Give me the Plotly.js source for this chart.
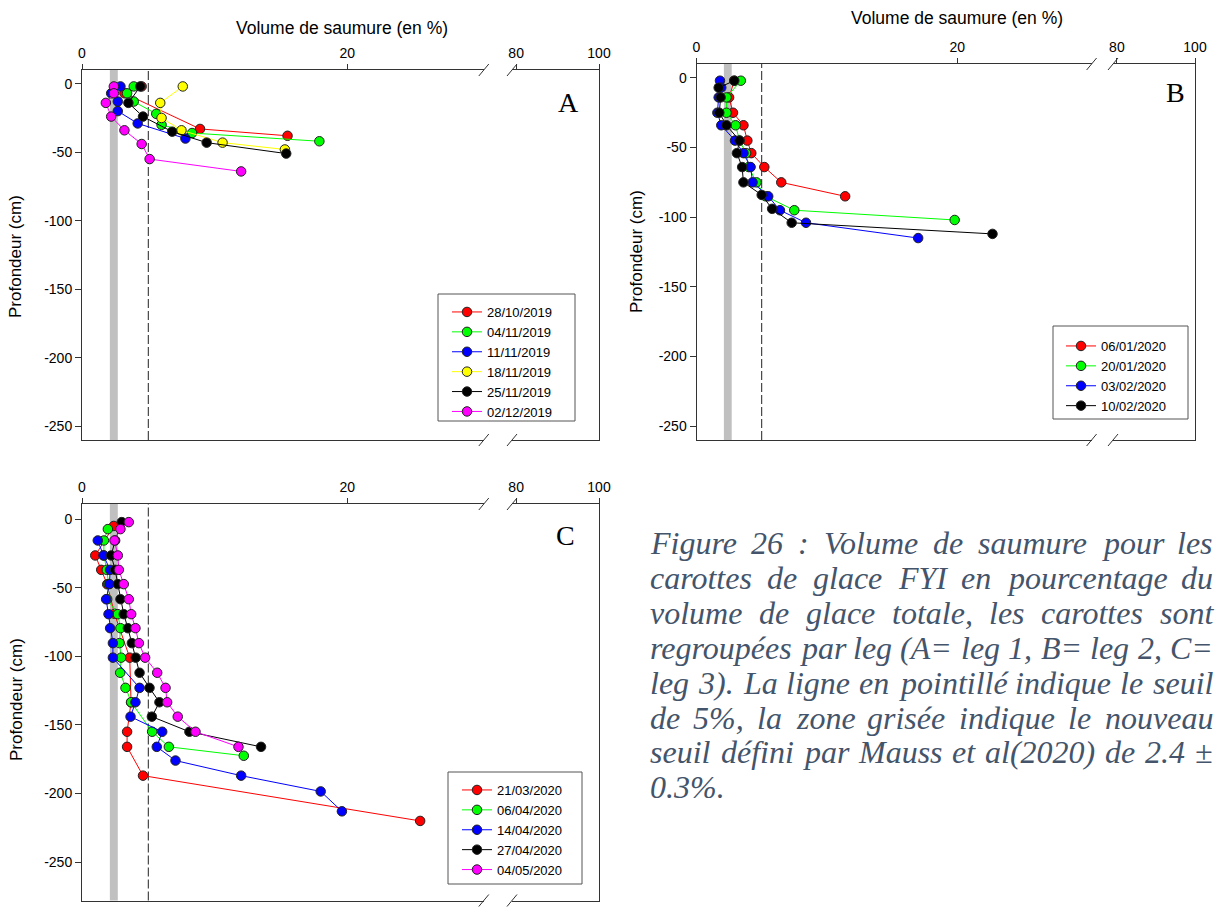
<!DOCTYPE html>
<html><head><meta charset="utf-8">
<script src="https://cdn.plot.ly/plotly-3.0.1.min.js"></script>
<style>html,body{margin:0;padding:0;background:#fff}#chart{width:1223px;height:907px}</style>
</head><body><div id="chart"></div>
<script>
// ================= DATA =================
// Panel A (leg 1)
const A_dates = ['28/10/2019','04/11/2019','11/11/2019','18/11/2019','25/11/2019','02/12/2019'];
const A_vol_281019 = [4.5, 3.2, 8.9, 15.5];
const A_dep_281019 = [-2, -7, -33, -38];
const A_vol_041119 = [3.9, 3.4, 3.9, 5.6, 6.0, 8.3, 17.9];
const A_dep_041119 = [-2, -7, -13, -22, -30, -36, -42];
const A_vol_111119 = [2.9, 2.2, 2.7, 2.7, 4.2, 7.8];
const A_dep_111119 = [-2, -7, -13, -20, -29, -40];
const A_vol_181119 = [7.6, 5.9, 6.0, 7.5, 10.6, 15.3];
const A_dep_181119 = [-2, -14, -25, -34, -43, -48];
const A_vol_251119 = [4.4, 3.5, 4.6, 6.8, 9.4, 15.4];
const A_dep_251119 = [-2, -14, -24, -35, -43, -51];
const A_vol_021219 = [2.4, 2.4, 1.8, 2.2, 3.2, 4.5, 5.1, 12.0];
const A_dep_021219 = [-2, -7, -14, -24, -34, -44, -55, -64];

// Panel B (leg 2)
const B_dates = ['06/01/2020','20/01/2020','03/02/2020','10/02/2020'];
const B_vol_060120 = [2.9, 2.5, 2.8, 3.6, 3.9, 4.2, 5.2, 6.5, 11.4];
const B_dep_060120 = [-2, -14, -25, -34, -45, -54, -64, -75, -85];
const B_vol_200120 = [3.4, 2.3, 2.3, 3.0, 3.3, 3.8, 4.0, 4.6, 5.3, 7.5, 19.8];
const B_dep_200120 = [-2, -14, -25, -34, -45, -54, -64, -75, -85, -95, -102];
const B_vol_030220 = [1.8, 1.9, 1.7, 1.6, 1.9, 2.95, 3.6, 4.15, 4.3, 5.5, 6.4, 8.4, 17.0];
const B_dep_030220 = [-2, -7, -14, -25, -34, -45, -54, -64, -75, -85, -95, -104, -115];
const B_vol_100220 = [2.9, 1.7, 1.85, 1.75, 2.3, 3.3, 3.1, 3.5, 3.6, 5.0, 5.8, 7.3, 22.7];
const B_dep_100220 = [-2, -7, -14, -25, -34, -45, -54, -64, -75, -84, -94, -104, -112];

// Panel C (leg 3)
const C_dates = ['21/03/2020','06/04/2020','14/04/2020','27/04/2020','04/05/2020'];
const C_vol_210320 = [2.4, 1.0, 1.45, 1.9, 2.45, 3.6, 3.7, 3.4, 3.4, 4.6, 25.5];
const C_dep_210320 = [-5, -26.5, -37, -47.5, -69, -101, -133.5, -155, -166, -187, -220];
const C_vol_060420 = [1.95, 1.65, 1.65, 1.87, 2.0, 1.9, 2.7, 2.9, 2.83, 2.95, 2.88, 3.28, 3.71, 5.29, 6.55, 12.2];
const C_dep_060420 = [-7.3, -15.6, -26.5, -37, -47.4, -58.4, -69.3, -79.5, -90.4, -101, -112, -123, -133.5, -155, -166, -172.5];
const C_vol_140420 = [1.19, 1.62, 2.12, 2.07, 1.82, 2.0, 2.12, 2.33, 2.33, 4.34, 4.03, 3.66, 6.05, 5.64, 7.05, 12.0, 18.0, 19.6];
const C_dep_140420 = [-15.6, -26.5, -37, -47.4, -58.4, -69.3, -79.5, -90.4, -101, -123, -133.5, -144, -155, -166, -176, -187, -198.5, -213];
const C_vol_270420 = [3.0, 2.5, 2.2, 2.5, 2.7, 2.9, 3.15, 3.46, 3.76, 4.05, 4.34, 5.09, 5.84, 5.27, 8.1, 13.5];
const C_dep_270420 = [-2.2, -15.6, -26.5, -37, -47.4, -58.4, -69.3, -79.5, -90.4, -101, -112, -123, -133.5, -144, -155, -166];
const C_vol_040520 = [3.53, 2.9, 2.45, 2.7, 2.78, 3.15, 3.53, 3.71, 4.03, 4.29, 4.76, 5.67, 6.3, 6.42, 7.22, 8.56, 11.8];
const C_dep_040520 = [-2.2, -7.3, -15.6, -26.5, -37, -47.4, -58.4, -69.3, -79.5, -90.4, -101, -112, -123, -133.5, -144, -155, -166];

// Thresholds
const SEUIL_CLASSIQUE = 5;      // %
const SEUIL_MAUSS = 2.4;        // %
const SEUIL_MAUSS_ERR = 0.3;    // %

// Tick labels
const X_TICKS_LOW = [0, 20];
const X_TICKS_HIGH = [80, 100];
const Y_TICKS = [0, -50, -100, -150, -200, -250];
const Y_TICK_TEXT = ['0', '-50', '-100', '-150', '-200', '-250'];

// Texts
const X_TITLE = 'Volume de saumure (en %)';
const Y_TITLE = 'Profondeur (cm)';
const CAPTION_LINES = [
  'Figure 26 : Volume de saumure pour les',
  'carottes de glace FYI en pourcentage du',
  'volume de glace totale, les carottes sont',
  'regroupées par leg (A= leg 1, B= leg 2, C=',
  'leg 3). La ligne en pointillé indique le seuil',
  'de 5%, la zone grisée indique le nouveau',
  'seuil défini par Mauss et al(2020) de 2.4 ±',
  '0.3%.'
];

// ================= STYLE / GEOMETRY =================
const W = 1223, H = 907;
const px = v => v / W;
const py = v => 1 - v / H;
const SANS = '"Liberation Sans", Arial, sans-serif';
const SERIF = '"Liberation Serif", "Times New Roman", serif';
const COL = {red:'#ff0000', green:'#00ff00', blue:'#0000ff', yellow:'#ffff00', black:'#000000', magenta:'#ff00ff'};

const PANELS = [
  {key:'A', xa:'x',  ya:'y',  xa2:'x2', ya2:'y2', legend:'legend',
   x0:82, xEnd:483.8, x2s:512, x2e:599, top:70, bot:440, yr:[-260,10],
   leg:{x0:438, y0:294, x1:575, y1:421, lx:447, ly:297}, letter:[568,102],
   xtitle:[341.5,28], ytitle:[16,257]},
  {key:'B', xa:'x3', ya:'y3', xa2:'x4', ya2:'y4', legend:'legend2',
   x0:696.5, xEnd:1091.6, x2s:1113, x2e:1195, top:64, bot:440, yr:[-260,10],
   leg:{x0:1053, y0:326, x1:1188, y1:419, lx:1061, ly:331}, letter:[1175,92],
   xtitle:[957,18], ytitle:[637,252]},
  {key:'C', xa:'x5', ya:'y5', xa2:'x6', ya2:'y6', legend:'legend3',
   x0:82, xEnd:483.8, x2s:512, x2e:599, top:504, bot:900.5, yr:[-278,11],
   leg:{x0:448, y0:772, x1:582, y1:884, lx:457, ly:775}, letter:[565,535],
   ytitle:[16,700]}
];

const SERIES = {
  A: [
    [A_vol_281019, A_dep_281019, A_dates[0], COL.red],
    [A_vol_041119, A_dep_041119, A_dates[1], COL.green],
    [A_vol_111119, A_dep_111119, A_dates[2], COL.blue],
    [A_vol_181119, A_dep_181119, A_dates[3], COL.yellow],
    [A_vol_251119, A_dep_251119, A_dates[4], COL.black],
    [A_vol_021219, A_dep_021219, A_dates[5], COL.magenta]
  ],
  B: [
    [B_vol_060120, B_dep_060120, B_dates[0], COL.red],
    [B_vol_200120, B_dep_200120, B_dates[1], COL.green],
    [B_vol_030220, B_dep_030220, B_dates[2], COL.blue],
    [B_vol_100220, B_dep_100220, B_dates[3], COL.black]
  ],
  C: [
    [C_vol_210320, C_dep_210320, C_dates[0], COL.red],
    [C_vol_060420, C_dep_060420, C_dates[1], COL.green],
    [C_vol_140420, C_dep_140420, C_dates[2], COL.blue],
    [C_vol_270420, C_dep_270420, C_dates[3], COL.black],
    [C_vol_040520, C_dep_040520, C_dates[4], COL.magenta]
  ]
};

const LINE_COL = '#333333';
const axisBase = {
  showline:true, linecolor:LINE_COL, linewidth:1, showgrid:false, zeroline:false,
  ticks:'outside', ticklen:5, tickwidth:1, tickcolor:LINE_COL,
  tickfont:{family:SANS, size:14, color:'#000'}, fixedrange:true
};

const traces = [];
const layout = {
  width:W, height:H, autosize:false,
  margin:{l:0, r:0, t:0, b:0, pad:0},
  paper_bgcolor:'#fff', plot_bgcolor:'rgba(0,0,0,0)',
  hovermode:false, shapes:[], annotations:[]
};

function axName(id){ return id.charAt(0) + 'axis' + (id.length > 1 ? id.slice(1) : ''); }

PANELS.forEach(P => {
  const yDom = [py(P.bot), py(P.top)];
  layout[axName(P.xa)] = Object.assign({}, axisBase, {
    domain:[px(P.x0), px(P.xEnd)], range:[0, 30.3], side:'top', anchor:P.ya,
    tickvals:X_TICKS_LOW, mirror:true
  });
  layout[axName(P.xa2)] = Object.assign({}, axisBase, {
    domain:[px(P.x2s), px(P.x2e)], range:[79, 100], side:'top', anchor:P.ya2,
    tickvals:X_TICKS_HIGH, mirror:true
  });
  layout[axName(P.ya)] = Object.assign({}, axisBase, {
    domain:yDom, range:P.yr, anchor:P.xa, side:'left',
    tickvals:Y_TICKS, ticktext:Y_TICK_TEXT, ticklen:6
  });
  layout[axName(P.ya2)] = {
    domain:yDom, range:P.yr, anchor:P.xa2, side:'right',
    showline:true, linecolor:LINE_COL, linewidth:1, showgrid:false, zeroline:false,
    showticklabels:false, ticks:'', fixedrange:true
  };

  // grey band (Mauss et al. 2020 threshold 2.4 ± 0.3 %)
  layout.shapes.push({type:'rect', xref:P.xa, yref:P.ya + ' domain',
    x0:SEUIL_MAUSS - SEUIL_MAUSS_ERR, x1:SEUIL_MAUSS + SEUIL_MAUSS_ERR, y0:0, y1:1,
    fillcolor:'#c0c0c0', line:{width:0}, layer:'below'});
  // dashed 5 % threshold
  layout.shapes.push({type:'line', xref:P.xa, yref:P.ya + ' domain',
    x0:SEUIL_CLASSIQUE, x1:SEUIL_CLASSIQUE, y0:0, y1:1,
    line:{color:'#222', width:1, dash:'9px,3px'}, layer:'below'});

  // axis break marks
  [P.top, P.bot].forEach(yy => {
    [P.xEnd, P.x2s].forEach(xx => {
      layout.shapes.push({type:'line', xref:'paper', yref:'paper',
        x0:px(xx - 5), y0:py(yy + 6), x1:px(xx + 5), y1:py(yy - 6),
        line:{color:LINE_COL, width:1}});
    });
  });

  // legend frame
  layout.shapes.push({type:'rect', xref:'paper', yref:'paper',
    x0:px(P.leg.x0), x1:px(P.leg.x1), y0:py(P.leg.y1), y1:py(P.leg.y0),
    line:{color:'#555', width:1}, fillcolor:'rgba(255,255,255,0)', layer:'above'});
  layout[P.legend] = {
    x:px(P.leg.lx), y:py(P.leg.ly), xanchor:'left', yanchor:'top',
    xref:'paper', yref:'paper',
    bgcolor:'rgba(0,0,0,0)', borderwidth:0, tracegroupgap:0,
    font:{family:SANS, size:13, color:'#000'}
  };

  // data traces
  SERIES[P.key].forEach(s => {
    traces.push({
      type:'scatter', mode:'lines+markers', x:s[0], y:s[1], name:s[2],
      xaxis:P.xa, yaxis:P.ya, legend:P.legend, cliponaxis:false,
      line:{color:s[3], width:1},
      marker:{color:s[3], size:9.5, line:{color:'#222', width:1}}
    });
  });
  // empty trace to create the 80-100 segment subplot
  traces.push({type:'scatter', mode:'markers', x:[], y:[], xaxis:P.xa2, yaxis:P.ya2,
    showlegend:false, hoverinfo:'skip'});

  // panel letter
  layout.annotations.push({xref:'paper', yref:'paper', x:px(P.letter[0]), y:py(P.letter[1]),
    xanchor:'center', yanchor:'middle', text:P.key, showarrow:false,
    font:{family:SERIF, size:28, color:'#000'}});
  // axis titles
  if (P.xtitle) layout.annotations.push({xref:'paper', yref:'paper', x:px(P.xtitle[0]), y:py(P.xtitle[1]),
    xanchor:'center', yanchor:'middle', text:X_TITLE, showarrow:false,
    font:{family:SANS, size:17.5, color:'#000'}});
  layout.annotations.push({xref:'paper', yref:'paper', x:px(P.ytitle[0]), y:py(P.ytitle[1]),
    xanchor:'center', yanchor:'middle', text:Y_TITLE, showarrow:false, textangle:-90,
    font:{family:SANS, size:17, color:'#000'}});
});

// ================= CAPTION (justified, word by word) =================
const CAP_LEFT = 650, CAP_RIGHT = 1213, CAP_TOP = 543, CAP_LH = 34.9, CAP_FS = 32;
const cv = document.createElement('canvas').getContext('2d');
cv.font = 'italic ' + CAP_FS + 'px "Liberation Serif", "Times New Roman", serif';
const spaceW = cv.measureText(' ').width;
CAPTION_LINES.forEach((line, i) => {
  const words = line.split(' ');
  const widths = words.map(w => cv.measureText(w).width);
  const total = widths.reduce((a, b) => a + b, 0);
  const last = i === CAPTION_LINES.length - 1;
  const gap = (last || words.length < 2) ? spaceW : (CAP_RIGHT - CAP_LEFT - total) / (words.length - 1);
  let xx = CAP_LEFT;
  words.forEach((w, k) => {
    layout.annotations.push({xref:'paper', yref:'paper', x:px(xx), y:py(CAP_TOP + i * CAP_LH),
      xanchor:'left', yanchor:'middle', text:w, showarrow:false, borderpad:0, borderwidth:0,
      font:{family:SERIF, size:CAP_FS, style:'italic', color:'#44546a'}});
    xx += widths[k] + gap;
  });
});

Plotly.newPlot('chart', traces, layout, {staticPlot:true, displayModeBar:false});
</script>
</body></html>
